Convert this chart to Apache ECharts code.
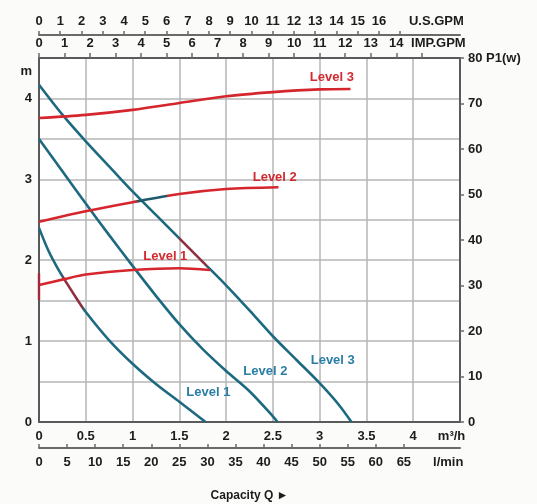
<!DOCTYPE html>
<html>
<head>
<meta charset="utf-8">
<script src="https://cdn.jsdelivr.net/npm/echarts@6/dist/echarts.min.js"></script>
<style>html,body{margin:0;padding:0;background:#fbfbf9;}#c{width:537px;height:504px;}</style>
</head>
<body>
<div id="c"></div>
<script>
// ---- data (flow in m³/h, head in m, power in W) ----
const headL3Q = [0, 0.25, 0.5, 0.75, 1.0, 1.25, 1.5, 1.75, 2.0, 2.25, 2.5, 2.75, 3.0, 3.2, 3.34];
const headL3H = [4.17, 3.80, 3.47, 3.16, 2.85, 2.56, 2.27, 1.98, 1.69, 1.38, 1.06, 0.77, 0.48, 0.22, 0];
const headL2Q = [0, 0.25, 0.5, 0.75, 1.0, 1.25, 1.5, 1.75, 2.0, 2.25, 2.5, 2.55];
const headL2H = [3.50, 3.10, 2.70, 2.31, 1.93, 1.56, 1.21, 0.90, 0.63, 0.38, 0.07, 0];
const headL1Q = [0, 0.1, 0.2, 0.3, 0.4, 0.5, 0.75, 1.0, 1.25, 1.5, 1.78];
const headL1H = [2.40, 2.12, 1.90, 1.71, 1.53, 1.36, 1.01, 0.72, 0.47, 0.25, 0];

const powL3Q = [0, 0.5, 1.0, 1.5, 2.0, 2.5, 3.0, 3.33];
const powL3P = [66.8, 67.5, 68.6, 70.1, 71.6, 72.5, 73.1, 73.2];
const powL2Q = [0, 0.5, 1.0, 1.5, 2.0, 2.56];
const powL2P = [44.0, 46.3, 48.3, 50.1, 51.2, 51.6];
const powL1Q = [0, 0.27, 0.5, 1.0, 1.5, 1.83];
const powL1P = [30.1, 31.4, 32.4, 33.4, 33.8, 33.4];
const powL1StartQ = [0, 0];
const powL1StartP = [26.8, 32.7];

// flow ranges where the printed curves change colour
const headL3Tint = [1.5, 1.8];
const headL1Tint = [0.26, 0.47];
const powL2Tint = [1.05, 1.37];

// label anchors (data units)
const headLabels = [['Level 3', 3.14, 0.76], ['Level 2', 2.42, 0.63], ['Level 1', 1.81, 0.36]];
const powLabels = [['Level 3', 3.13, 75.8], ['Level 2', 2.52, 53.8], ['Level 1', 1.35, 36.3]];

// axis ticks / labels
const m3hLabels = [0, 0.5, 1, 1.5, 2, 2.5, 3, 3.5, 4];
const lminTicks = [0, 5, 10, 15, 20, 25, 30, 35, 40, 45, 50, 55, 60, 65];
const impTicks = [0,1,2,3,4,5,6,7,8,9,10,11,12,13,14,15];
const impLabels = [0,1,2,3,4,5,6,7,8,9,10,11,12,13,14];
const usTicks = [0,1,2,3,4,5,6,7,8,9,10,11,12,13,14,15,16,17];
const usLabels = [0,1,2,3,4,5,6,7,8,9,10,11,12,13,14,15,16];
const headLabelVals = [0, 1, 2, 3, 4];

// unit conversions from m³/h
const Q_MAX = 4.5;
const TO_LMIN = 1000 / 60;
const TO_IMP = 1000 / 4.54609 / 60;
const TO_US = 1000 / 3.785411784 / 60;

const zip = (a, b) => a.map((v, i) => [v, b[i]]);

const FONT = 'Liberation Sans, Arial, sans-serif';
const BLUE = '#1d6a80';
const RED = '#d6262d';
const DARKRED = '#8e3040';
const DARKTEAL = '#1f5a6c';
const lbl = { color: '#1c1c1c', fontWeight: 'bold', fontSize: 13, fontFamily: FONT };
const axLine = { show: true, onZero: false, lineStyle: { color: '#5a5a5a', width: 2 } };

function lineSeries(q, v, color, yIdx, labels, tinted) {
  const s = {
    type: 'line', xAxisIndex: 0, yAxisIndex: yIdx, data: zip(q, v),
    smooth: 0.3, showSymbol: false, symbol: 'none', silent: true,
    itemStyle: { color: color },
    lineStyle: tinted ? { width: 2.6 } : { color: color, width: 2.6 }, z: 5
  };
  if (labels) {
    s.markPoint = {
      symbol: 'circle', symbolSize: 0, silent: true,
      label: { show: true, position: 'inside', fontFamily: FONT, fontWeight: 'bold', fontSize: 13,
               color: color === RED ? '#d22a30' : '#2a7ea6', formatter: p => p.name },
      data: [{ name: labels[0], coord: [labels[1], labels[2]] }]
    };
  }
  return s;
}

function tint(seriesIndex, range, base, col) {
  return { type: 'piecewise', show: false, seriesIndex: seriesIndex, dimension: 0,
           pieces: [{ lt: range[0], color: base }, { gte: range[0], lte: range[1], color: col }, { gt: range[1], color: base }] };
}

const chart = echarts.init(document.getElementById('c'), null, { renderer: 'canvas' });
chart.setOption({
  backgroundColor: '#fbfbf9',
  animation: false,
  textStyle: { fontFamily: FONT },
  grid: { left: 39, right: 77, top: 58, bottom: 82, show: true, backgroundColor: '#ffffff',
          borderWidth: 0, containLabel: false, outerBoundsMode: 'none' },
  visualMap: [
    tint(0, headL3Tint, BLUE, DARKRED),
    tint(2, headL1Tint, BLUE, DARKRED),
    tint(4, powL2Tint, RED, DARKTEAL)
  ],
  xAxis: [
    { type: 'value', position: 'bottom', min: 0, max: Q_MAX, interval: 0.5,
      axisLine: axLine, axisTick: { show: false },
      splitLine: { show: true, lineStyle: { color: '#b6b6b6', width: 1.5 } },
      axisLabel: Object.assign({ margin: 8, customValues: m3hLabels.concat([4.41]),
        formatter: v => (v > 4.2 ? 'm³/h' : String(v)) }, lbl) },
    { type: 'value', position: 'bottom', offset: 26, min: 0, max: Q_MAX * TO_LMIN,
      axisLine: { show: true, onZero: false, lineStyle: { color: '#6a6a6a', width: 2 } },
      axisTick: { show: true, inside: true, length: 4, customValues: lminTicks,
                  lineStyle: { color: '#6a6a6a', width: 1.5 } },
      splitLine: { show: false },
      axisLabel: Object.assign({ margin: 8, customValues: lminTicks.concat([72.9]),
        formatter: v => (v > 70 ? 'l/min' : String(v)) }, lbl),
      name: 'Capacity Q ►', nameLocation: 'middle', nameGap: 42,
      nameTextStyle: { color: '#1c1c1c', fontWeight: 'bold', fontSize: 12, fontFamily: FONT } },
    { type: 'value', position: 'top', min: 0, max: Q_MAX * TO_IMP,
      axisLine: axLine,
      axisTick: { show: true, inside: false, length: 5, customValues: impTicks,
                  lineStyle: { color: '#6a6a6a', width: 1.5 } },
      splitLine: { show: false },
      axisLabel: Object.assign({ margin: 8, customValues: impLabels.concat([15.65]),
        formatter: v => (v > 15 ? 'IMP.GPM' : String(v)) }, lbl) },
    { type: 'value', position: 'top', offset: 23, min: 0, max: Q_MAX * TO_US,
      axisLine: { show: true, onZero: false, lineStyle: { color: '#6a6a6a', width: 2 } },
      axisTick: { show: true, inside: false, length: 4, customValues: usTicks,
                  lineStyle: { color: '#6a6a6a', width: 1.5 } },
      splitLine: { show: false },
      axisLabel: Object.assign({ margin: 7, customValues: usLabels.concat([18.7]),
        formatter: v => (v > 17 ? 'U.S.GPM' : String(v)) }, lbl) }
  ],
  yAxis: [
    { type: 'value', position: 'left', min: 0, max: Q_MAX, interval: 0.5,
      axisLine: axLine, axisTick: { show: false },
      splitLine: { show: true, lineStyle: { color: '#b6b6b6', width: 1.5 } },
      axisLabel: Object.assign({ margin: 7, customValues: headLabelVals.concat([4.33]),
        formatter: v => (v > 4.2 ? 'm' : String(v)) }, lbl) },
    { type: 'value', position: 'right', min: 0, max: 80, interval: 10,
      axisLine: axLine,
      axisTick: { show: true, inside: false, length: 4, lineStyle: { color: '#6a6a6a', width: 1.5 } },
      splitLine: { show: false },
      axisLabel: Object.assign({ margin: 8, formatter: v => (v === 80 ? '80 P1(w)' : String(v)) }, lbl) }
  ],
  series: [
    lineSeries(headL3Q, headL3H, BLUE, 0, headLabels[0], true),
    lineSeries(headL2Q, headL2H, BLUE, 0, headLabels[1], false),
    lineSeries(headL1Q, headL1H, BLUE, 0, headLabels[2], true),
    lineSeries(powL3Q, powL3P, RED, 1, powLabels[0], false),
    lineSeries(powL2Q, powL2P, RED, 1, powLabels[1], true),
    lineSeries(powL1Q, powL1P, RED, 1, powLabels[2], false),
    { type: 'line', xAxisIndex: 0, yAxisIndex: 1, data: zip(powL1StartQ, powL1StartP),
      showSymbol: false, symbol: 'none', silent: true,
      lineStyle: { color: '#a02a3c', width: 2.4 }, z: 6 }
  ]
});
</script>
</body>
</html>
